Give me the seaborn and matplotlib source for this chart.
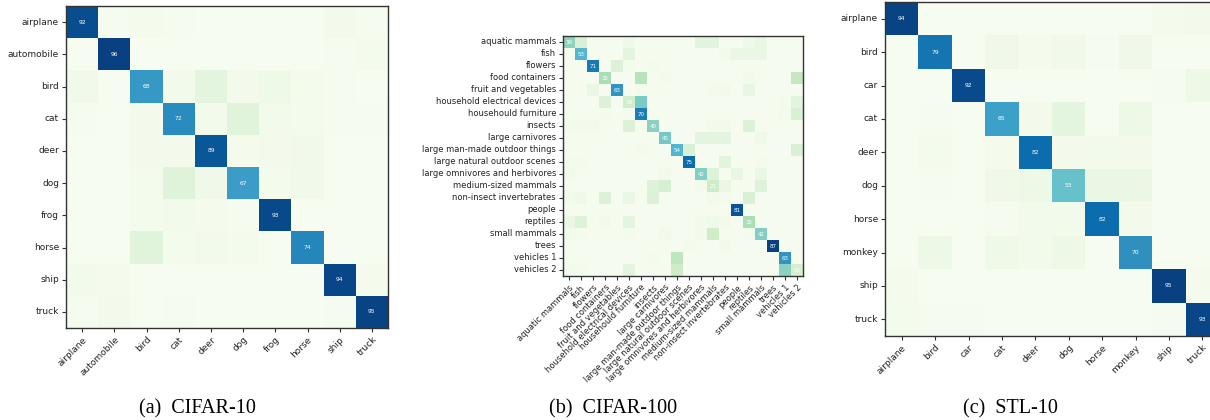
import numpy as np
import matplotlib
matplotlib.use("Agg")
import matplotlib.pyplot as plt
import seaborn as sns

# rotulos das classes
cifar10_classes = ['airplane', 'automobile', 'bird', 'cat', 'deer',
                   'dog', 'frog', 'horse', 'ship', 'truck']
cifar100_classes = ['aquatic mammals', 'fish', 'flowers', 'food containers',
                    'fruit and vegetables', 'household electrical devices',
                    'househould furniture', 'insects', 'large carnivores',
                    'large man-made outdoor things', 'large natural outdoor scenes',
                    'large omnivores and herbivores', 'medium-sized mammals',
                    'non-insect invertebrates', 'people', 'reptiles',
                    'small mammals', 'trees', 'vehicles 1', 'vehicles 2']
stl10_classes = ['airplane', 'bird', 'car', 'cat', 'deer',
                 'dog', 'horse', 'monkey', 'ship', 'truck']

captions = ['(a)  CIFAR-10', '(b)  CIFAR-100', '(c)  STL-10']

# matrizes de confusao (%), lidas a olho da figura
cifar10_cm = [
    [92, 0.8, 1.5, 0.8, 0.5, 0.3, 0.5, 0.3, 2.5, 1.0],
    [0.5, 96, 0.2, 0.3, 0.2, 0.2, 0.3, 0.2, 0.8, 2.0],
    [3.5, 0.3, 68, 3, 10, 2.5, 4.5, 2, 1, 0.5],
    [0.8, 0.5, 2.5, 72, 3, 12, 3, 2, 1, 1],
    [0.5, 0.3, 2.5, 2.5, 89, 1.5, 2.5, 3.5, 0.3, 0.3],
    [0.3, 0.3, 2, 13, 4, 67, 2, 3.5, 0.5, 0.5],
    [0.5, 0.3, 2, 3, 1.5, 0.8, 93, 0.3, 0.5, 0.3],
    [0.5, 0.3, 12, 2, 3, 2, 0.5, 74, 0.3, 0.5],
    [3, 1.5, 0.5, 0.5, 0.3, 0.3, 0.3, 0.3, 94, 1.5],
    [1, 2.5, 0.5, 0.8, 0.3, 0.3, 0.3, 0.3, 1, 95],
]

cifar100_cm = [
    [39, 15, 1, 1, 1, 4, 1, 1, 1, 1, 1, 10, 10, 1, 1, 4, 6, 1, 1, 1],
    [1, 53, 1, 1, 1, 9, 1, 1, 1, 1, 1, 1, 1, 3, 6, 6, 6, 1, 1, 1],
    [1, 1, 71, 1, 13, 2, 1, 2, 1, 1, 1, 1, 1, 1, 1, 1, 1, 1, 1, 1],
    [1, 1, 1, 32, 1, 1, 28, 1, 2, 1, 1, 1, 1, 1, 1, 3, 1, 1, 1, 24],
    [1, 1, 6, 1, 63, 1, 2, 1, 1, 1, 1, 1, 2, 3, 1, 7, 1, 1, 1, 1],
    [1, 1, 1, 13, 1, 19, 44, 1, 1, 1, 1, 1, 1, 1, 1, 1, 1, 1, 2, 10],
    [1, 1, 1, 2, 1, 2, 70, 1, 1, 1, 1, 1, 1, 1, 1, 1, 1, 1, 3, 15],
    [3, 3, 3, 1, 1, 13, 1, 40, 1, 1, 1, 1, 3, 3, 1, 13, 1, 1, 1, 1],
    [1, 1, 1, 1, 1, 1, 1, 1, 45, 1, 1, 9, 9, 9, 1, 1, 4, 1, 1, 1],
    [1, 1, 1, 1, 1, 1, 2, 1, 1, 54, 15, 1, 1, 1, 1, 1, 1, 1, 1, 15],
    [2, 2, 1, 1, 1, 1, 1, 1, 1, 1, 75, 1, 1, 10, 1, 1, 2, 1, 1, 1],
    [3, 1, 1, 1, 1, 1, 1, 1, 3, 1, 1, 42, 12, 1, 7, 1, 6, 1, 1, 1],
    [1, 1, 1, 1, 1, 1, 1, 12, 16, 1, 1, 3, 21, 6, 1, 1, 12, 1, 1, 1],
    [3, 4, 1, 13, 1, 6, 1, 13, 1, 1, 1, 1, 3, 2, 1, 15, 1, 1, 1, 1],
    [1, 1, 1, 1, 1, 1, 1, 1, 1, 1, 1, 1, 1, 1, 81, 1, 1, 1, 1, 1],
    [6, 12, 1, 3, 1, 9, 1, 1, 1, 1, 1, 3, 4, 3, 1, 32, 1, 1, 1, 1],
    [3, 2, 1, 1, 1, 2, 1, 1, 3, 1, 1, 3, 20, 1, 1, 2, 42, 1, 1, 1],
    [1, 1, 1, 1, 1, 1, 1, 1, 1, 1, 2, 1, 1, 3, 1, 1, 1, 87, 1, 1],
    [1, 1, 1, 1, 1, 1, 1, 2, 1, 26, 1, 1, 1, 1, 1, 1, 1, 1, 63, 1],
    [3, 2, 1, 1, 1, 9, 1, 1, 1, 21, 1, 1, 1, 1, 1, 1, 1, 1, 40, 16],
]

stl10_cm = [
    [94, 0.5, 0.5, 0.5, 0.3, 0.5, 0.3, 0.5, 1.5, 2.5],
    [0.5, 79, 0.5, 4, 1.5, 3.5, 1, 4, 0.5, 0.5],
    [0.5, 0.3, 92, 0.3, 0.3, 0.3, 0.3, 0.3, 1, 5],
    [0.5, 1, 0.5, 65, 2.5, 10, 0.5, 5, 0.5, 0.5],
    [0.5, 2, 0.5, 1.5, 82, 2.5, 3, 2.5, 0.5, 0.5],
    [0.5, 1, 0.5, 4, 5, 53, 7, 7, 0.5, 0.5],
    [0.5, 0.5, 0.5, 1, 3, 3, 82, 2.5, 0.5, 0.5],
    [0.5, 5, 0.5, 4.5, 3, 5, 0.5, 70, 0.5, 0.5],
    [1.5, 0.3, 0.5, 0.3, 0.3, 0.3, 0.3, 0.3, 95, 1.5],
    [2, 1, 1, 0.5, 0.3, 0.5, 0.3, 0.5, 1, 93],
]

W, H = 1210, 420


def desenhar_matriz(fig, rect_px, cm, classes, tick_size, annot_size):
    # rect_px = (esquerda, topo, largura, altura) em pixels
    x0, y0, w, h = rect_px
    ax = fig.add_axes([x0 / W, (H - y0 - h) / H, w / W, h / H])
    cm = np.array(cm, dtype=float)
    n = len(classes)
    annot = np.full((n, n), "", dtype=object)
    for i in range(n):
        annot[i, i] = str(int(round(cm[i, i])))
    sns.heatmap(cm, ax=ax, cmap='GnBu', vmin=0, vmax=cm.max(), cbar=False,
                annot=annot, fmt='', square=False,
                annot_kws={'color': 'white', 'fontsize': annot_size},
                xticklabels=classes, yticklabels=classes)
    ax.set_xticklabels(classes, rotation=45, ha='right', rotation_mode='anchor',
                       fontsize=tick_size, color='#222222')
    ax.set_yticklabels(classes, rotation=0, fontsize=tick_size, color='#222222')
    ax.tick_params(axis='both', length=3, width=0.8, color='#333333', pad=2)
    for s in ax.spines.values():
        s.set_visible(True)
        s.set_color('#333333')
        s.set_linewidth(1.0)
    return ax


fig = plt.figure(figsize=(W / 100, H / 100), dpi=100)

desenhar_matriz(fig, (66, 6, 322, 322), cifar10_cm, cifar10_classes, 6.5, 4.3)
desenhar_matriz(fig, (563, 36, 240, 240), cifar100_cm, cifar100_classes, 6.0, 4.0)
desenhar_matriz(fig, (885, 2, 334, 334), stl10_cm, stl10_classes, 6.5, 4.3)

for cx, txt in zip([197, 613, 1010], captions):
    fig.text(cx / W, (H - 409) / H, txt, ha='center', va='center',
             fontsize=14.5, family='Liberation Serif')

fig.savefig('out.png', dpi=100)
